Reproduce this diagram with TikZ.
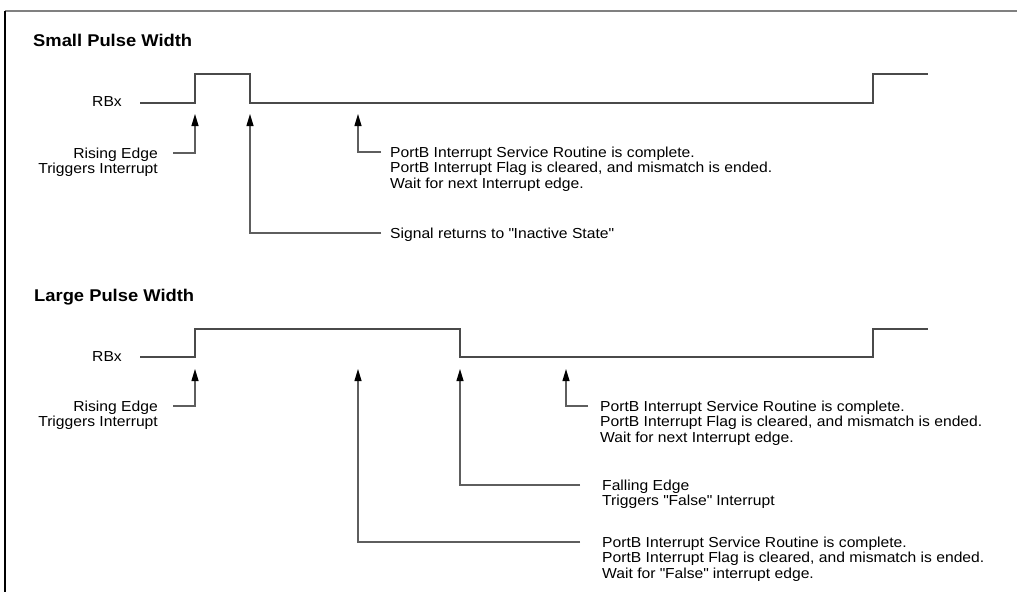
\documentclass[tikz,border=0pt]{standalone}
\usepackage{fontspec}
\setmainfont{Liberation Sans}[FakeStretch=1.08]
\usepackage{tikz}
\usetikzlibrary{arrows.meta, positioning}

\definecolor{wire}{HTML}{4A4A4A}
\definecolor{lead}{HTML}{5E5E5E}
\newcommand{\qq}[1]{\textquotedbl#1\textquotedbl}

\begin{document}
\begin{tikzpicture}[x=1pt, y=-1pt,
  sig/.style={wire, line width=1.3pt},
  ptr/.style={lead, line width=1.1pt, -{Triangle[length=12pt, width=7pt, color=black]}},
  lbl/.style={inner sep=0pt, text height=13pt, text depth=2pt, font=\fontsize{14.5}{15}\selectfont},
  ttl/.style={inner sep=0pt, font=\fontsize{17}{19}\selectfont\bfseries}]
  \useasboundingbox (0,0) rectangle (1017,592);

  % Frame
  \draw[gray, line width=1.5pt] (5,11) -- (1017,11);
  \draw[black, line width=1.2pt] (5,11) -- (5,592);

  % Small pulse width
  \node[ttl, anchor=base west] (ttlA) at (33,46) {Small Pulse Width};
  \node[lbl, anchor=east] (rbxA) at (122,101) {RBx};
  \draw[sig] (140,103) -- (195,103) -- (195,74) -- (250,74) -- (250,103)
    -- (873,103) -- (873,74) -- (928,74);

  \coordinate (tipA1) at (195,114);
  \coordinate (tipA2) at (250,114);
  \coordinate (tipA3) at (358,114);

  \node[lbl, anchor=east] (riseA) at (158,153) {Rising Edge};
  \node[lbl, anchor=north east] (riseAb) at (riseA.south east) {Triggers Interrupt};

  \node[lbl, anchor=west] (isrA) at (390,152) {PortB Interrupt Service Routine is complete.};
  \node[lbl, anchor=north west] (isrAb) at (isrA.south west) {PortB Interrupt Flag is cleared, and mismatch is ended.};
  \node[lbl, anchor=north west] (isrAc) at (isrAb.south west) {Wait for next Interrupt edge.};

  \node[lbl, anchor=west] (retA) at (390,233) {Signal returns to \qq{Inactive State}};

  \draw[ptr, shorten <=15pt] (riseA) -| (tipA1);
  \draw[ptr, shorten <=9pt] (retA) -| (tipA2);
  \draw[ptr, shorten <=9pt] (isrA) -| (tipA3);

  % Large pulse width
  \node[ttl, anchor=base west] (ttlB) at (34,301) {Large Pulse Width};
  \node[lbl, anchor=east] (rbxB) at (122,356) {RBx};
  \draw[sig] (140,357) -- (195,357) -- (195,329) -- (460,329) -- (460,357)
    -- (873,357) -- (873,329) -- (928,329);

  \coordinate (tipB1) at (195,369);
  \coordinate (tipB2) at (358,369);
  \coordinate (tipB3) at (460,369);
  \coordinate (tipB4) at (566,369);

  \node[lbl, anchor=east] (riseB) at (158,406) {Rising Edge};
  \node[lbl, anchor=north east] (riseBb) at (riseB.south east) {Triggers Interrupt};

  \node[lbl, anchor=west] (isrB) at (600,406) {PortB Interrupt Service Routine is complete.};
  \node[lbl, anchor=north west] (isrBb) at (isrB.south west) {PortB Interrupt Flag is cleared, and mismatch is ended.};
  \node[lbl, anchor=north west] (isrBc) at (isrBb.south west) {Wait for next Interrupt edge.};

  \node[lbl, anchor=west] (fallB) at (602,485) {Falling Edge};
  \node[lbl, anchor=north west] (fallBb) at (fallB.south west) {Triggers \qq{False} Interrupt};

  \node[lbl, anchor=west] (isrC) at (602,542) {PortB Interrupt Service Routine is complete.};
  \node[lbl, anchor=north west] (isrCb) at (isrC.south west) {PortB Interrupt Flag is cleared, and mismatch is ended.};
  \node[lbl, anchor=north west] (isrCc) at (isrCb.south west) {Wait for \qq{False} interrupt edge.};

  \draw[ptr, shorten <=15pt] (riseB) -| (tipB1);
  \draw[ptr, shorten <=12pt] (isrB) -| (tipB4);
  \draw[ptr, shorten <=22pt] (fallB) -| (tipB3);
  \draw[ptr, shorten <=22pt] (isrC) -| (tipB2);
\end{tikzpicture}
\end{document}
